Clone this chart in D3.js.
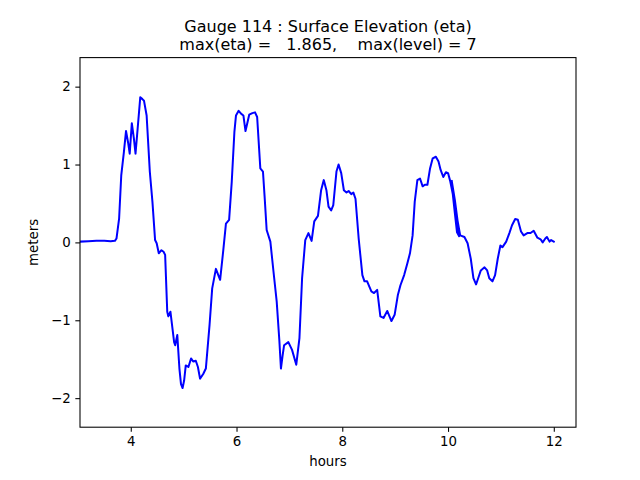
<!DOCTYPE html>
<html>
<head>
<meta charset="utf-8">
<script src="https://cdn.jsdelivr.net/npm/d3@7"></script>
<style>
    html, body { margin: 0; padding: 0; background: #fff; overflow: hidden; }
    svg { display: block; }
    text { font-family: "DejaVu Sans", sans-serif; fill: #000; }
</style>
</head>
<body>
<div id="plot"></div>
<script>
// gauge 114 time series
const hours = [
    3.05, 3.2, 3.35, 3.5, 3.62, 3.70,
    3.73, 3.78, 3.82, 3.87, 3.91, 3.95, 3.98, 4.02, 4.06, 4.09, 4.13, 4.18, 4.22, 4.25,
    4.30, 4.36, 4.41, 4.46, 4.49, 4.53, 4.58, 4.62, 4.65, 4.69, 4.71, 4.75, 4.82, 4.84,
    4.88, 4.92, 4.95, 4.98, 5.01, 5.04, 5.09, 5.14, 5.18, 5.23, 5.27, 5.31, 5.37, 5.42,
    5.49, 5.54, 5.61, 5.69, 5.75, 5.80, 5.86, 5.91, 5.96, 5.99, 6.04, 6.09, 6.13, 6.17,
    6.21, 6.24, 6.30, 6.35, 6.39, 6.45, 6.50, 6.53, 6.57, 6.64, 6.70, 6.76, 6.81, 6.84,
    6.87, 6.90, 6.98, 7.05, 7.13, 7.19, 7.24, 7.30, 7.36, 7.42, 7.47, 7.54, 7.60, 7.65,
    7.70, 7.74, 7.79, 7.83, 7.89, 7.93, 7.98, 8.03, 8.08, 8.12, 8.17, 8.21, 8.25, 8.31,
    8.38, 8.42, 8.47, 8.55, 8.60, 8.66, 8.72, 8.78, 8.85, 8.93, 8.99, 9.05, 9.10, 9.17,
    9.23, 9.28, 9.33, 9.37, 9.42, 9.47, 9.52, 9.56, 9.61, 9.66, 9.71, 9.77, 9.82, 9.86,
    9.91, 9.96, 10.00, 10.04, 10.09, 10.13, 10.17, 10.21,
    10.07, 10.13, 10.18, 10.23, 10.31,
    10.37, 10.43, 10.48, 10.53, 10.57, 10.62, 10.69, 10.74, 10.78, 10.84, 10.89, 10.94,
    10.99, 11.03, 11.10, 11.16, 11.21, 11.27, 11.32, 11.38, 11.43, 11.50, 11.56, 11.62,
    11.69, 11.75, 11.79, 11.84, 11.87, 11.92, 11.95, 12.00
];
const eta = [
    0.01, 0.015, 0.02, 0.02, 0.015, 0.02,
    0.05, 0.31, 0.86, 1.16, 1.43, 1.28, 1.14, 1.53, 1.33, 1.14, 1.46, 1.865, 1.84, 1.82,
    1.63, 0.91, 0.52, 0.03, -0.01, -0.14, -0.10, -0.12, -0.16, -0.89, -0.95, -0.89, -1.28, -1.32,
    -1.19, -1.62, -1.82, -1.87, -1.77, -1.58, -1.60, -1.49, -1.53, -1.52, -1.60, -1.75, -1.69, -1.62,
    -1.06, -0.59, -0.34, -0.48, -0.10, 0.24, 0.29, 0.78, 1.42, 1.63, 1.69, 1.65, 1.63, 1.43,
    1.55, 1.64, 1.66, 1.67, 1.61, 0.95, 0.91, 0.60, 0.16, 0.01, -0.38, -0.76, -1.26, -1.62,
    -1.46, -1.32, -1.28, -1.38, -1.57, -1.23, -0.46, 0.03, 0.12, 0.02, 0.27, 0.34, 0.67, 0.80,
    0.67, 0.46, 0.41, 0.48, 0.91, 1.00, 0.89, 0.67, 0.64, 0.66, 0.62, 0.64, 0.56, 0.05,
    -0.42, -0.50, -0.50, -0.63, -0.65, -0.61, -0.95, -0.97, -0.88, -1.01, -0.93, -0.68, -0.55, -0.42,
    -0.27, -0.14, 0.09, 0.52, 0.80, 0.82, 0.72, 0.74, 0.74, 0.95, 1.08, 1.10, 1.04, 0.93,
    0.84, 0.90, 0.89, 0.79, 0.62, 0.37, 0.13, 0.08,
    0.79, 0.54, 0.28, 0.09, 0.07,
    -0.01, -0.21, -0.46, -0.54, -0.46, -0.36, -0.32, -0.36, -0.46, -0.50, -0.42, -0.21,
    -0.04, -0.06, 0.01, 0.12, 0.22, 0.30, 0.29, 0.14, 0.09, 0.12, 0.12, 0.15,
    0.06, 0.04, 0.00, 0.05, 0.07, 0.01, 0.03, 0.01
];
const xTicks = [4, 6, 8, 10, 12];
const yTicks = [-2, -1, 0, 1, 2];
const xDomain = [3.04, 12.42];
const yDomain = [-2.373, 2.373];

const titleLines = [
    "Gauge 114 : Surface Elevation (eta)",
    "max(eta) =   1.865,    max(level) = 7"
];

const width = 640;
const height = 480;
const margin = { top: 57.6, right: 64, bottom: 52.8, left: 80 };
const innerWidth = width - margin.left - margin.right;
const innerHeight = height - margin.top - margin.bottom;

const svg = d3.select("#plot")
    .append("svg")
    .attr("width", width)
    .attr("height", height);

const g = svg.append("g")
    .attr("transform", `translate(${margin.left},${margin.top})`);

const x = d3.scaleLinear().domain(xDomain).range([0, innerWidth]);
const y = d3.scaleLinear().domain(yDomain).range([innerHeight, 0]);

g.append("clipPath")
    .attr("id", "clip")
    .append("rect")
    .attr("width", innerWidth)
    .attr("height", innerHeight);

const points = hours.map((h, i) => [h, eta[i]]);

const line = d3.line()
    .x(d => x(d[0]))
    .y(d => y(d[1]));

g.append("path")
    .datum(points)
    .attr("clip-path", "url(#clip)")
    .attr("fill", "none")
    .attr("stroke", "#0000ff")
    .attr("stroke-width", 2)
    .attr("stroke-linejoin", "round")
    .attr("stroke-linecap", "square")
    .attr("d", line);

// axes, matplotlib-ish
const xAxis = g.append("g")
    .attr("transform", `translate(0,${innerHeight})`)
    .call(d3.axisBottom(x).tickValues(xTicks).tickFormat(d3.format("d"))
        .tickSize(4.67).tickPadding(4.67).tickSizeOuter(0));

const yAxis = g.append("g")
    .call(d3.axisLeft(y).tickValues(yTicks).tickFormat(d3.format("d"))
        .tickSize(4.67).tickPadding(4.67).tickSizeOuter(0));

[xAxis, yAxis].forEach(ax => {
    ax.select(".domain").remove();
    ax.selectAll(".tick line").attr("stroke", "#000").attr("stroke-width", 1.07);
    ax.selectAll(".tick text")
        .attr("font-family", "DejaVu Sans")
        .attr("font-size", "13.33px")
        .attr("fill", "#000");
});

g.append("rect")
    .attr("width", innerWidth)
    .attr("height", innerHeight)
    .attr("fill", "none")
    .attr("stroke", "#000")
    .attr("stroke-width", 1.07);

g.append("text")
    .attr("x", innerWidth / 2)
    .attr("y", innerHeight + 38.5)
    .attr("text-anchor", "middle")
    .attr("font-size", "13.33px")
    .text("hours");

g.append("text")
    .attr("transform", `translate(${-42.5},${innerHeight / 2}) rotate(-90)`)
    .attr("text-anchor", "middle")
    .attr("font-size", "13.33px")
    .text("meters");

svg.selectAll(".title")
    .data(titleLines)
    .enter()
    .append("text")
    .attr("class", "title")
    .attr("x", margin.left + innerWidth / 2)
    .attr("y", (d, i) => 31.5 + i * 18.5)
    .attr("text-anchor", "middle")
    .attr("font-size", "16px")
    .style("white-space", "pre")
    .attr("xml:space", "preserve")
    .text(d => d);
</script>
</body>
</html>
